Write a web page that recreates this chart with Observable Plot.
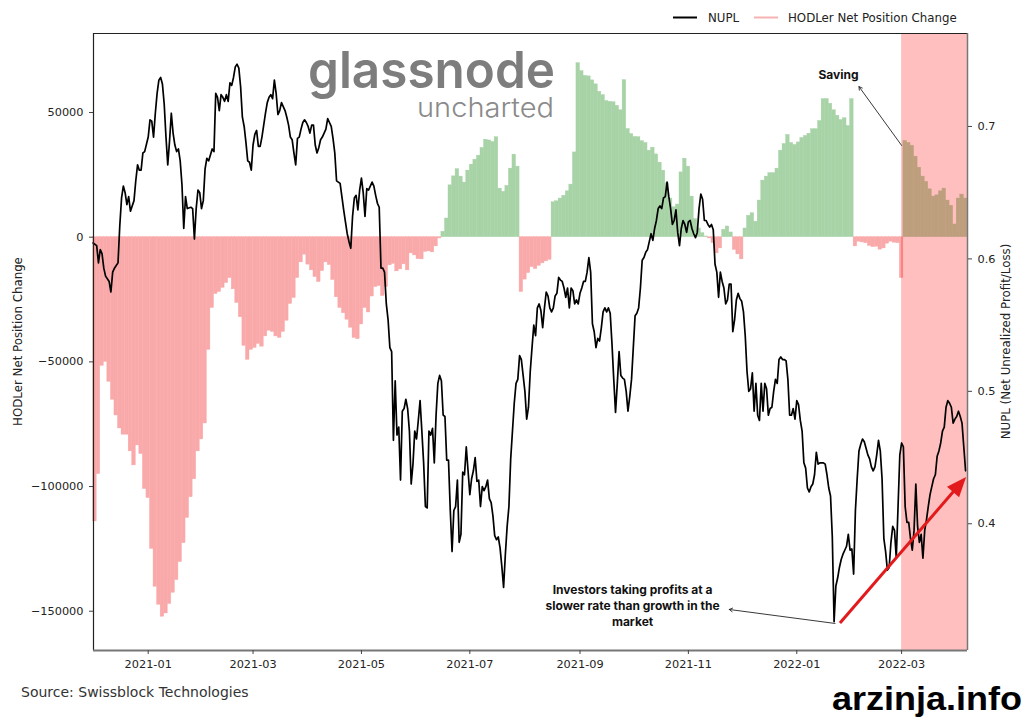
<!DOCTYPE html>
<html><head><meta charset="utf-8">
<script src="https://cdn.jsdelivr.net/npm/d3@7"></script>
<script src="https://cdn.jsdelivr.net/npm/@observablehq/plot@0.6"></script>
<style>
body{margin:0;background:#fff;}
#wrap{position:relative;width:1024px;height:717px;overflow:hidden;}
</style></head><body><div id="wrap"></div>
<script>
// ---------------- DATA ----------------
const nuplDates = [
"2020-12-01","2020-12-03","2020-12-04","2020-12-05","2020-12-06","2020-12-07","2020-12-08","2020-12-10","2020-12-11","2020-12-12",
"2020-12-13","2020-12-14","2020-12-15","2020-12-16","2020-12-17","2020-12-18","2020-12-19","2020-12-20","2020-12-21","2020-12-22",
"2020-12-24","2020-12-25","2020-12-26","2020-12-27","2020-12-28","2020-12-29","2020-12-30",
"2021-01-01","2021-01-02","2021-01-03","2021-01-04","2021-01-05","2021-01-06","2021-01-07","2021-01-08","2021-01-09","2021-01-10",
"2021-01-11","2021-01-12","2021-01-13","2021-01-14","2021-01-15","2021-01-16","2021-01-17","2021-01-18","2021-01-19","2021-01-20",
"2021-01-21","2021-01-22","2021-01-23","2021-01-25","2021-01-26","2021-01-27","2021-01-28","2021-01-29","2021-01-30","2021-01-31",
"2021-02-01","2021-02-02","2021-02-03","2021-02-04","2021-02-06","2021-02-07","2021-02-08","2021-02-09","2021-02-10","2021-02-11",
"2021-02-12","2021-02-13","2021-02-14","2021-02-15","2021-02-16","2021-02-17","2021-02-18","2021-02-19","2021-02-20","2021-02-21",
"2021-02-22","2021-02-23","2021-02-24","2021-02-25","2021-02-26","2021-02-27","2021-02-28",
"2021-03-01","2021-03-02","2021-03-03","2021-03-04","2021-03-05","2021-03-06","2021-03-07","2021-03-08","2021-03-09","2021-03-10",
"2021-03-11","2021-03-12","2021-03-13","2021-03-14","2021-03-15","2021-03-16","2021-03-17","2021-03-18","2021-03-19","2021-03-20",
"2021-03-21","2021-03-22","2021-03-23","2021-03-24","2021-03-25","2021-03-26","2021-03-27","2021-03-28","2021-03-29","2021-03-30","2021-03-31",
"2021-04-01","2021-04-02","2021-04-03","2021-04-04","2021-04-05","2021-04-06","2021-04-07","2021-04-08","2021-04-09","2021-04-10",
"2021-04-11","2021-04-12","2021-04-13","2021-04-14","2021-04-15","2021-04-16","2021-04-17","2021-04-18","2021-04-19","2021-04-20",
"2021-04-21","2021-04-22","2021-04-23","2021-04-24","2021-04-25","2021-04-26","2021-04-27","2021-04-28","2021-04-29","2021-04-30",
"2021-05-01","2021-05-02","2021-05-03","2021-05-04","2021-05-05","2021-05-06","2021-05-07","2021-05-08","2021-05-09","2021-05-10",
"2021-05-11","2021-05-12","2021-05-13","2021-05-14","2021-05-15","2021-05-16","2021-05-17","2021-05-18","2021-05-19","2021-05-20",
"2021-05-21","2021-05-22","2021-05-23","2021-05-24","2021-05-25","2021-05-26","2021-05-27","2021-05-28","2021-05-29","2021-05-30","2021-05-31",
"2021-06-01","2021-06-02","2021-06-03","2021-06-04","2021-06-05","2021-06-06","2021-06-07","2021-06-08","2021-06-09","2021-06-10",
"2021-06-11","2021-06-12","2021-06-13","2021-06-14","2021-06-15","2021-06-16","2021-06-17","2021-06-18","2021-06-19","2021-06-20",
"2021-06-21","2021-06-22","2021-06-23","2021-06-24","2021-06-25","2021-06-26","2021-06-27","2021-06-28","2021-06-29","2021-06-30",
"2021-07-01","2021-07-02","2021-07-03","2021-07-04","2021-07-05","2021-07-06","2021-07-07","2021-07-08","2021-07-09","2021-07-10",
"2021-07-11","2021-07-12","2021-07-13","2021-07-14","2021-07-15","2021-07-16","2021-07-17","2021-07-18","2021-07-19","2021-07-20",
"2021-07-21","2021-07-22","2021-07-23","2021-07-24","2021-07-25","2021-07-26","2021-07-27","2021-07-28","2021-07-29","2021-07-30","2021-07-31",
"2021-08-01","2021-08-02","2021-08-03","2021-08-04","2021-08-05","2021-08-06","2021-08-07","2021-08-08","2021-08-09","2021-08-10",
"2021-08-11","2021-08-12","2021-08-13","2021-08-14","2021-08-15","2021-08-16","2021-08-17","2021-08-18","2021-08-19","2021-08-20",
"2021-08-21","2021-08-22","2021-08-23","2021-08-24","2021-08-25","2021-08-26","2021-08-27","2021-08-28","2021-08-29","2021-08-30","2021-08-31",
"2021-09-01","2021-09-02","2021-09-03","2021-09-04","2021-09-05","2021-09-06","2021-09-07","2021-09-08","2021-09-09","2021-09-10",
"2021-09-11","2021-09-12","2021-09-13","2021-09-14","2021-09-15","2021-09-16","2021-09-17","2021-09-18","2021-09-19","2021-09-20",
"2021-09-21","2021-09-22","2021-09-23","2021-09-24","2021-09-25","2021-09-26","2021-09-27","2021-09-28","2021-09-29","2021-09-30",
"2021-10-01","2021-10-02","2021-10-03","2021-10-04","2021-10-05","2021-10-06","2021-10-07","2021-10-08","2021-10-09","2021-10-10",
"2021-10-11","2021-10-12","2021-10-13","2021-10-14","2021-10-15","2021-10-16","2021-10-17","2021-10-18","2021-10-19","2021-10-20",
"2021-10-21","2021-10-22","2021-10-23","2021-10-24","2021-10-25","2021-10-26","2021-10-27","2021-10-28","2021-10-29","2021-10-30","2021-10-31",
"2021-11-01","2021-11-02","2021-11-03","2021-11-04","2021-11-05","2021-11-06","2021-11-07","2021-11-08","2021-11-09","2021-11-10",
"2021-11-11","2021-11-12","2021-11-13","2021-11-14","2021-11-15","2021-11-16","2021-11-17","2021-11-18","2021-11-19","2021-11-20",
"2021-11-21","2021-11-22","2021-11-23","2021-11-24","2021-11-25","2021-11-26","2021-11-27","2021-11-28","2021-11-29","2021-11-30",
"2021-12-01","2021-12-02","2021-12-03","2021-12-04","2021-12-05","2021-12-06","2021-12-07","2021-12-08","2021-12-09","2021-12-10",
"2021-12-11","2021-12-12","2021-12-13","2021-12-14","2021-12-15","2021-12-16","2021-12-17","2021-12-18","2021-12-19","2021-12-20",
"2021-12-21","2021-12-22","2021-12-23","2021-12-24","2021-12-25","2021-12-26","2021-12-27","2021-12-28","2021-12-29","2021-12-30","2021-12-31",
"2022-01-01","2022-01-02","2022-01-03","2022-01-04","2022-01-05","2022-01-06","2022-01-07","2022-01-08","2022-01-09","2022-01-10",
"2022-01-11","2022-01-12","2022-01-13","2022-01-14","2022-01-15","2022-01-16","2022-01-17","2022-01-18","2022-01-19","2022-01-20",
"2022-01-21","2022-01-22","2022-01-23","2022-01-24","2022-01-25","2022-01-26","2022-01-27","2022-01-28","2022-01-29","2022-01-30","2022-01-31",
"2022-02-01","2022-02-02","2022-02-03","2022-02-04","2022-02-05","2022-02-06","2022-02-07","2022-02-08","2022-02-09","2022-02-10",
"2022-02-11","2022-02-12","2022-02-13","2022-02-14","2022-02-15","2022-02-16","2022-02-17","2022-02-18","2022-02-19","2022-02-20",
"2022-02-21","2022-02-22","2022-02-23","2022-02-24","2022-02-25","2022-02-26","2022-02-27","2022-02-28",
"2022-03-01","2022-03-02","2022-03-03","2022-03-04","2022-03-05","2022-03-06","2022-03-07","2022-03-08","2022-03-09","2022-03-10",
"2022-03-11","2022-03-12","2022-03-13","2022-03-14","2022-03-15","2022-03-16","2022-03-17","2022-03-18","2022-03-19","2022-03-20",
"2022-03-21","2022-03-22","2022-03-23","2022-03-24","2022-03-25","2022-03-26","2022-03-27","2022-03-28","2022-03-29","2022-03-30","2022-03-31",
"2022-04-01","2022-04-02","2022-04-03","2022-04-04","2022-04-05","2022-04-06"
];
const nuplValues = [
0.612,0.610,0.597,0.607,0.604,0.593,0.587,0.583,0.575,0.590,
0.593,0.595,0.597,0.625,0.646,0.655,0.650,0.641,0.647,0.636,
0.644,0.659,0.671,0.667,0.667,0.680,0.681,
0.692,0.705,0.704,0.692,0.710,0.725,0.735,0.737,0.732,0.717,
0.692,0.671,0.689,0.710,0.695,0.686,0.681,0.683,0.674,0.656,
0.623,0.647,0.638,0.639,0.638,0.615,0.638,0.652,0.650,0.638,
0.644,0.668,0.676,0.674,0.683,0.681,0.725,0.722,0.712,0.724,
0.722,0.719,0.724,0.719,0.733,0.731,0.737,0.745,0.747,0.744,
0.730,0.707,0.700,0.688,0.674,0.673,0.667,
0.686,0.694,0.697,0.685,0.685,0.692,0.701,0.710,0.718,0.722,
0.724,0.721,0.735,0.725,0.709,0.712,0.718,0.715,0.712,0.707,
0.701,0.692,0.690,0.680,0.671,0.691,0.692,0.698,0.703,0.705,0.703,
0.700,0.695,0.701,0.701,0.686,0.680,0.684,0.690,0.692,0.695,
0.698,0.706,0.703,0.700,0.691,0.680,0.659,0.658,0.657,0.647,
0.637,0.628,0.619,0.613,0.608,0.632,0.646,0.648,0.637,0.652,
0.661,0.650,0.632,0.653,0.652,0.655,0.658,0.655,0.648,0.642,
0.639,0.593,0.593,0.590,0.566,0.554,0.533,0.530,0.463,0.508,
0.467,0.473,0.433,0.485,0.487,0.494,0.487,0.470,0.430,0.445,0.470,
0.464,0.478,0.493,0.470,0.446,0.413,0.412,0.470,0.467,0.472,
0.446,0.482,0.506,0.512,0.508,0.482,0.481,0.448,0.448,0.410,
0.379,0.410,0.413,0.433,0.386,0.392,0.439,0.437,0.458,0.440,
0.422,0.434,0.440,0.450,0.432,0.433,0.413,0.428,0.425,0.428,
0.433,0.419,0.416,0.406,0.391,0.388,0.390,0.382,0.368,0.352,
0.377,0.398,0.413,0.449,0.470,0.491,0.506,0.509,0.527,0.524,0.512,
0.500,0.479,0.488,0.515,0.533,0.550,0.542,0.563,0.566,0.561,
0.548,0.563,0.575,0.572,0.563,0.560,0.563,0.572,0.574,0.586,
0.584,0.583,0.578,0.571,0.578,0.563,0.578,0.576,0.566,0.569,0.566,
0.574,0.578,0.583,0.583,0.590,0.601,0.590,0.551,0.545,0.533,
0.540,0.538,0.548,0.560,0.563,0.560,0.563,0.559,0.536,0.509,
0.484,0.506,0.530,0.512,0.510,0.509,0.500,0.485,0.496,0.509,
0.533,0.557,0.559,0.563,0.578,0.599,0.601,0.605,0.607,0.613,
0.619,0.614,0.623,0.629,0.638,0.640,0.638,0.646,0.647,0.658,
0.647,0.638,0.626,0.629,0.637,0.620,0.610,0.623,0.629,0.626,0.620,
0.628,0.629,0.623,0.619,0.616,0.620,0.638,0.649,0.645,0.629,
0.629,0.626,0.624,0.626,0.622,0.596,0.590,0.571,0.590,0.583,
0.578,0.566,0.569,0.581,0.581,0.545,0.554,0.569,0.574,0.570,
0.568,0.560,0.542,0.515,0.500,0.502,0.514,0.485,0.506,0.482,
0.478,0.506,0.485,0.506,0.502,0.482,0.487,0.488,0.500,0.509,
0.506,0.524,0.526,0.524,0.524,0.523,0.509,0.482,0.482,0.487,0.479,
0.493,0.490,0.478,0.470,0.446,0.442,0.427,0.424,0.428,0.430,
0.437,0.454,0.445,0.446,0.446,0.446,0.445,0.437,0.427,0.421,
0.390,0.326,0.353,0.359,0.367,0.373,0.377,0.380,0.383,0.392,0.380,
0.381,0.362,0.410,0.434,0.455,0.460,0.464,0.462,0.457,0.452,
0.449,0.443,0.440,0.443,0.452,0.463,0.455,0.434,0.389,0.379,
0.365,0.367,0.386,0.398,0.395,0.374,0.413,0.452,
0.461,0.458,0.413,0.401,0.401,0.389,0.380,0.395,0.430,0.398,
0.386,0.392,0.374,0.395,0.403,0.413,0.422,0.428,0.434,0.437,
0.451,0.455,0.461,0.470,0.473,0.488,0.493,0.491,0.488,0.476,0.479,
0.481,0.485,0.481,0.476,0.458,0.440
];

// HODLer Net Position Change, two-day bins starting 2020-12-01
const hodlStart = "2020-12-01";
const hodlBinDays = 2;
const hodlValues = [
-114000,-95000,-51600,-50000,-58000,-65200,-71500,-76700,-79200,-79200,
-85900,-91500,-83500,-87000,-101000,-104600,-125000,-140200,-147400,-152200,
-150900,-147100,-142600,-137500,-130300,-122700,-112600,-104300,-97100,-85900,
-81100,-74700,-45200,-28400,-22800,-22000,-20300,-18400,-16400,-20900,
-26400,-32100,-43600,-49200,-45200,-44400,-42800,-43900,-39800,-37500,
-38000,-39800,-40400,-38000,-33500,-26800,-24400,-16400,-10100,-7000,
-11000,-13300,-16000,-18000,-13600,-10100,-11200,-17200,-24100,-28400,
-30500,-33100,-36300,-40400,-40900,-35000,-28400,-30200,-23800,-20000,
-19600,-23600,-20000,-11300,-10700,-13700,-12900,-10900,-13300,-6500,
-7300,-8800,-8900,-5900,-5700,-6100,-3700,-500,2200,7500,
20800,24400,27300,24300,21900,26700,29100,31100,32700,35800,
39100,38800,38200,40100,19500,18200,20600,27500,33100,28300,
-22000,-17000,-14400,-12000,-12800,-11500,-10500,-9700,-9100,14000,
14400,15500,16600,18400,21100,34000,69800,66600,64700,64500,
62900,61300,58300,57000,54600,54300,54100,52700,50900,63000,
43400,41400,40200,40100,38500,37800,34700,35900,33200,29900,
26700,21600,15500,12000,13100,26000,31500,28300,16300,7200,
3500,1600,300,-500,-2400,-6500,-4500,3000,4300,1900,
-5100,-6900,-8900,3500,8600,9600,6200,14700,22700,24300,
25700,25700,27500,34700,37400,41000,37800,37000,38000,39800,
40600,41500,43300,43300,46600,55400,55400,53500,50900,48700,
47000,47700,44600,55400,-3700,-1800,-2100,-2400,-3500,-4000,
-3800,-5000,-4500,-2600,-1800,-2200,-2400,-16400,38600,37800,
36700,32300,27900,24300,22200,19200,16300,16800,18400,19500,
14700,12600,5100,15500,17100,15500
];

const hodlTicks = [-150000, -100000, -50000, 0, 50000];
const nuplTicks = [0.4, 0.5, 0.6, 0.7];
const xTicks = ["2021-01-01","2021-03-01","2021-05-01","2021-07-01","2021-09-01","2021-11-01","2022-01-01","2022-03-01"];
const xDomain = ["2020-12-01T05:00Z", "2022-04-07T02:00Z"];
const hodlDomain = [-165750, 81690];
const nuplDomain = [0.3043, 0.7702];
const highlightStart = "2022-03-01";

// annotations (anchored in data space)
const savingText = "Saving";
const savingAt = ["2022-01-24T12:00Z", 64850];
const savingFrom = ["2022-03-01T00:00Z", 36800];
const savingTo = ["2022-02-05T00:00Z", 60400];
const investorsText = "Investors taking profits at a\nslower rate than growth in the\nmarket";
const investorsAt = ["2021-09-30T14:00Z", -147300];
const investorsFrom = ["2022-01-22T12:00Z", -154900];
const investorsTo = ["2021-11-24T00:00Z", -149300];
const trendFrom = ["2022-01-25T14:00Z", 0.3247];
const trendTo = ["2022-04-06T14:00Z", 0.435];

// ---------------- BUILD ----------------
const toLeft = n => hodlDomain[0] + (n - nuplDomain[0]) / (nuplDomain[1] - nuplDomain[0]) * (hodlDomain[1] - hodlDomain[0]);
const fromLeft = v => nuplDomain[0] + (v - hodlDomain[0]) / (hodlDomain[1] - hodlDomain[0]) * (nuplDomain[1] - nuplDomain[0]);
const D = s => new Date(s);

const nupl = nuplDates.map((d, i) => ({date: D(d), v: toLeft(nuplValues[i])}));
const start = D(hodlStart);
const hodl = hodlValues.map((v, i) => ({
  x1: d3.utcDay.offset(start, i * hodlBinDays),
  x2: d3.utcDay.offset(start, (i + 1) * hodlBinDays),
  value: v
}));
const PINK = "#f9a9a9", GREEN = "#a7d3a7";
const fmtMinus = v => v < 0 ? "\u2212" + Math.abs(v) : String(v);

const chart = Plot.plot({
  width: 1024, height: 717,
  marginLeft: 93, marginRight: 57, marginTop: 33, marginBottom: 67,
  style: {fontFamily: "DejaVu Sans, sans-serif", fontSize: "11.3px", color: "#222", background: "white", overflow: "visible"},
  x: {type: "utc", domain: xDomain.map(D)},
  y: {domain: hodlDomain},
  marks: [
    Plot.rectY(hodl, {x1: "x1", x2: "x2", y: "value", fill: d => d.value >= 0 ? GREEN : PINK, stroke: d => d.value >= 0 ? GREEN : PINK, strokeWidth: 0.4}),
    Plot.rect([{a: D(highlightStart), b: D(xDomain[1])}], {x1: "a", x2: "b", y1: hodlDomain[0], y2: hodlDomain[1], fill: "#ff0000", fillOpacity: 0.25}),
    Plot.line(nupl, {x: "date", y: "v", stroke: "#000", strokeWidth: 1.7}),
    Plot.arrow([0], {x1: D(savingFrom[0]), y1: savingFrom[1], x2: D(savingTo[0]), y2: savingTo[1], stroke: "#222", strokeWidth: 0.9, headLength: 6}),
    Plot.arrow([0], {x1: D(investorsFrom[0]), y1: investorsFrom[1], x2: D(investorsTo[0]), y2: investorsTo[1], stroke: "#222", strokeWidth: 0.9, headLength: 6}),
    Plot.text([savingText], {x: D(savingAt[0]), y: savingAt[1], text: d => d, fontFamily: "Inter, sans-serif", fontWeight: 700, fontSize: 12, fill: "#111"}),
    Plot.text([investorsText], {x: D(investorsAt[0]), y: investorsAt[1], text: d => d, fontFamily: "Inter, sans-serif", fontWeight: 700, fontSize: 12, fill: "#111", lineHeight: 1.33}),
    Plot.ruleY([hodlDomain[1]], {stroke: "#222", strokeWidth: 1}),
    Plot.ruleX([D(xDomain[0])], {stroke: "#222", strokeWidth: 1.2}),
    Plot.ruleY([hodlDomain[0]], {stroke: "#777", strokeWidth: 1.8}),
    Plot.ruleX([D(xDomain[1])], {stroke: "#777", strokeWidth: 1.5}),
    Plot.axisX({ticks: xTicks.map(D), tickFormat: d3.utcFormat("%Y-%m"), label: null, tickSize: 4, tickPadding: 5, stroke: "#444"}),
    Plot.axisY({anchor: "left", ticks: hodlTicks, tickFormat: fmtMinus, label: null, tickSize: 4, tickPadding: 6, stroke: "#444"}),
    Plot.axisY({anchor: "right", ticks: nuplTicks.map(toLeft), tickFormat: v => fromLeft(v).toFixed(1), label: null, tickSize: 4, tickPadding: 6, stroke: "#444"})
  ]
});
document.getElementById("wrap").appendChild(chart);

const svg = d3.select(chart);
const sx = chart.scale("x"), sy = chart.scale("y");

// red trend arrow with filled head
(function () {
  const x0 = sx.apply(D(trendFrom[0])), y0 = sy.apply(toLeft(trendFrom[1]));
  const x1 = sx.apply(D(trendTo[0])), y1 = sy.apply(toLeft(trendTo[1]));
  const len = Math.hypot(x1 - x0, y1 - y0), ux = (x1 - x0) / len, uy = (y1 - y0) / len;
  const L = 20, W = 8, bx = x1 - L * ux, by = y1 - L * uy;
  const g = svg.append("g");
  g.append("line").attr("x1", x0).attr("y1", y0).attr("x2", bx + 2 * ux).attr("y2", by + 2 * uy)
    .attr("stroke", "#e31a1c").attr("stroke-width", 3);
  g.append("path").attr("d", `M${x1},${y1}L${bx - W * uy},${by + W * ux}L${bx + W * uy},${by - W * ux}Z`).attr("fill", "#e31a1c");
})();

// watermark logo
const logo = svg.insert("g", ":first-child").attr("text-anchor", "start");
logo.append("text").attr("x", 308).attr("y", 88).text("glassnode")
  .attr("font-family", "Inter, sans-serif").attr("font-weight", 600).attr("font-size", 51)
  .attr("fill", "#7d7d7d").attr("textLength", 247).attr("lengthAdjust", "spacingAndGlyphs");
logo.append("text").attr("x", 417).attr("y", 116.5).text("uncharted")
  .attr("font-family", "Inter, sans-serif").attr("font-weight", 300).attr("font-size", 27.5)
  .attr("fill", "#8a8a8a").attr("textLength", 137).attr("lengthAdjust", "spacingAndGlyphs");

// legend
const lg = svg.append("g").attr("text-anchor", "start").attr("font-family", "DejaVu Sans, sans-serif").attr("font-size", 11.8).attr("fill", "#222");
lg.append("line").attr("x1", 673).attr("x2", 697).attr("y1", 17.5).attr("y2", 17.5).attr("stroke", "#000").attr("stroke-width", 2);
lg.append("text").attr("x", 708).attr("y", 21.6).text("NUPL");
lg.append("line").attr("x1", 754).attr("x2", 778).attr("y1", 17.5).attr("y2", 17.5).attr("stroke", "#f7b3b3").attr("stroke-width", 2);
lg.append("text").attr("x", 788).attr("y", 21.6).text("HODLer Net Position Change");

// axis titles
svg.append("text").attr("transform", "translate(21.5,341.5) rotate(-90)").attr("text-anchor", "middle")
  .attr("font-family", "DejaVu Sans, sans-serif").attr("font-size", 11.8).attr("fill", "#222").text("HODLer Net Position Change");
svg.append("text").attr("transform", "translate(1010,341.5) rotate(-90)").attr("text-anchor", "middle")
  .attr("font-family", "DejaVu Sans, sans-serif").attr("font-size", 11.8).attr("fill", "#222").text("NUPL (Net Unrealized Profit/Loss)");

// source & site mark
svg.append("text").attr("x", 21).attr("y", 696.5).attr("text-anchor", "start").attr("font-family", "DejaVu Sans, sans-serif").attr("font-size", 14)
  .attr("fill", "#333").text("Source: Swissblock Technologies");
svg.append("text").attr("x", 832).attr("y", 710).attr("text-anchor", "start").attr("font-family", "Liberation Sans, Arial, sans-serif").attr("font-weight", 700)
  .attr("font-size", 33).attr("fill", "#000").attr("textLength", 190).attr("lengthAdjust", "spacingAndGlyphs").text("arzinja.info");
</script>
</body></html>
